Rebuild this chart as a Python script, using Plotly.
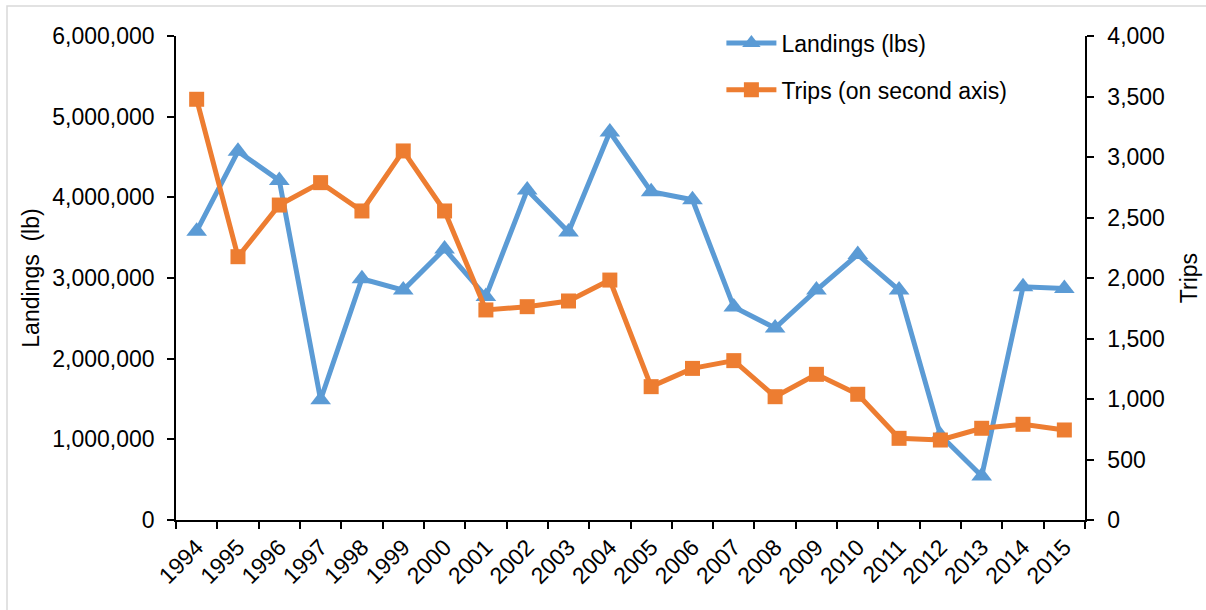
import plotly.graph_objects as go

years = [str(y) for y in range(1994, 2016)]
landings = [3580000, 4570000, 4210000, 1490000, 2990000, 2850000, 3360000, 2770000,
            4090000, 3570000, 4810000, 4070000, 3970000, 2640000, 2380000, 2850000,
            3290000, 2850000, 1050000, 545000, 2890000, 2870000]
trips = [3477, 2176, 2603, 2788, 2554, 3050, 2554, 1736, 1763, 1810, 1983, 1102,
         1253, 1317, 1019, 1204, 1039, 675, 661, 758, 791, 744]

BLUE = "#5B9BD5"
ORANGE = "#ED7D31"
FONT = "Liberation Sans, Arial, sans-serif"
FS = 23
W, H = 1206, 610
L, R, T, B = 176, 121, 36, 90

fig = go.Figure()
fig.add_trace(go.Scatter(
    x=years, y=landings, name="Landings (lbs)", mode="lines+markers",
    line=dict(color=BLUE, width=5),
    marker=dict(symbol="triangle-up", size=18, color=BLUE),
    legendgroup="a",
))
fig.add_trace(go.Scatter(
    x=years, y=trips, name="Trips (on second axis)", mode="lines+markers",
    line=dict(color=ORANGE, width=5),
    marker=dict(symbol="square", size=15, color=ORANGE),
    yaxis="y2", legendgroup="b",
))

axis_common = dict(
    showline=True, linecolor="#000000", linewidth=1.5,
    ticks="outside", ticklen=7, tickcolor="#000000", tickwidth=1.5,
    showgrid=False, zeroline=False, automargin=False,
    tickfont=dict(family=FONT, size=FS, color="#000000"),
)

fig.update_layout(
    width=W, height=H,
    margin=dict(l=L, r=R, t=T, b=B),
    paper_bgcolor="white", plot_bgcolor="white",
    font=dict(family=FONT, size=FS, color="#000000"),
    xaxis=dict(
        **axis_common, type="category", tickson="boundaries",
        range=[-0.5, 21.5], tickangle=-45, ticklabelstandoff=3,
    ),
    yaxis=dict(
        **axis_common, range=[0, 6000000], dtick=1000000, tickformat=",",
        ticklabelstandoff=8,
        title=dict(text="Landings\u00a0 (lb)", standoff=6,
                   font=dict(family=FONT, size=FS, color="#000000")),
    ),
    yaxis2=dict(
        **axis_common, range=[0, 4000], dtick=500, tickformat=",",
        overlaying="y", side="right", ticklabelstandoff=9,
        title=dict(text="Trips", standoff=17,
                   font=dict(family=FONT, size=FS, color="#000000")),
    ),
    legend=dict(
        x=0.6, y=1.03, xanchor="left", yanchor="top",
        bgcolor="rgba(0,0,0,0)", tracegroupgap=14, traceorder="grouped",
        itemwidth=50,
        font=dict(family=FONT, size=FS, color="#000000"),
    ),
    shapes=[dict(
        type="rect", xref="paper", yref="paper",
        x0=(7 - L) / (W - L - R), x1=(1212 - L) / (W - L - R),
        y0=(H - B - 614) / (H - T - B), y1=(H - B - 6) / (H - T - B),
        line=dict(color="#d9d9d9", width=1.5), layer="below",
    )],
)

fig.write_html("out.html")
